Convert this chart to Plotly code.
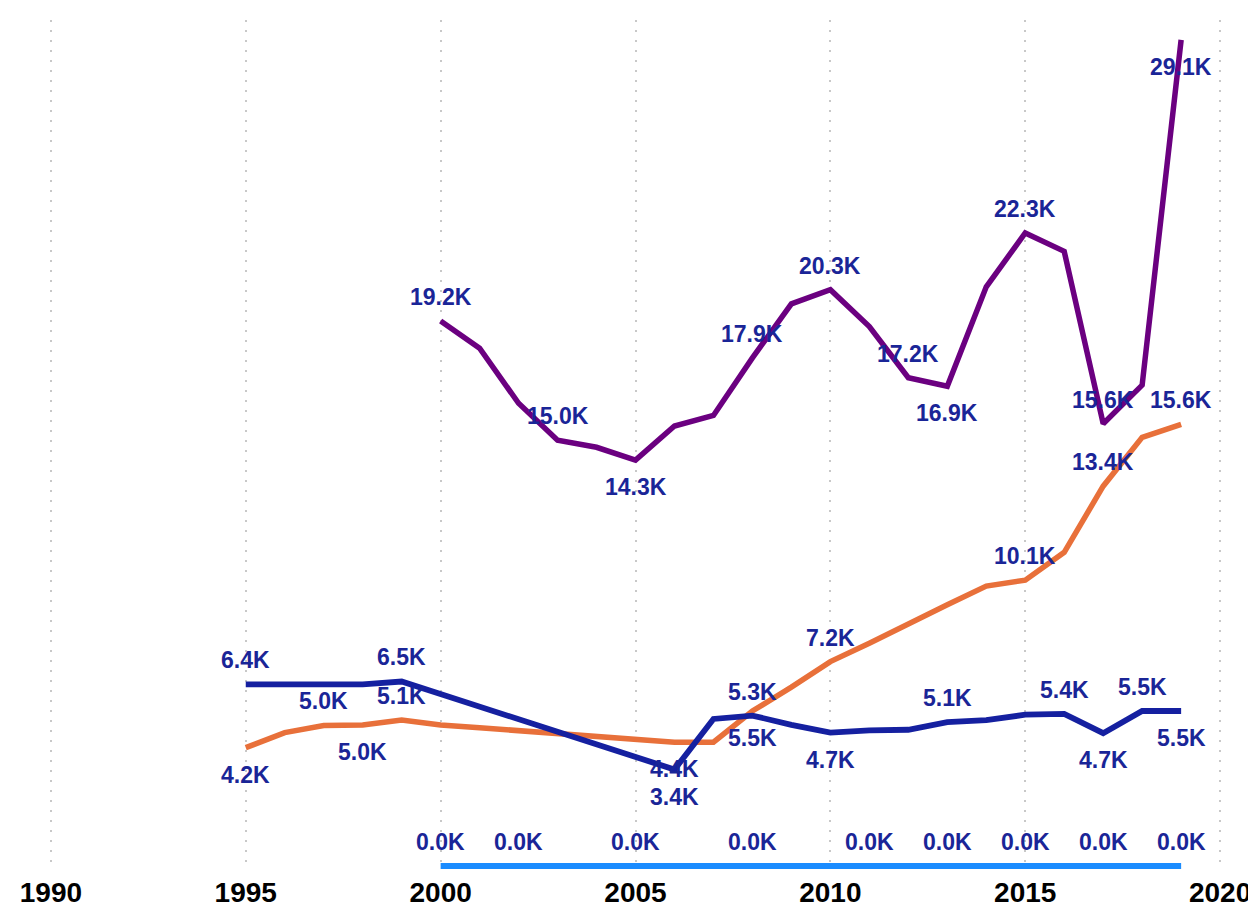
import plotly.graph_objects as go

# ---------------- data ----------------
years_a = list(range(1995, 2020))          # navy + orange series
navy_vals = [6.4, 6.4, 6.4, 6.4, 6.5, 6.06, 5.61, 5.17, 4.73, 4.29, 3.84, 3.4,
             5.18, 5.3, 4.97, 4.7, 4.78, 4.8, 5.07, 5.14, 5.33, 5.36, 4.68, 5.46, 5.46]
orange_vals = [4.17, 4.7, 4.95, 4.97, 5.14, 4.97, 4.87, 4.77, 4.67, 4.57, 4.47, 4.36,
               4.36, 5.46, 6.3, 7.2, 7.85, 8.5, 9.2, 9.86, 10.07, 11.05, 13.38, 15.1, 15.56]
years_b = list(range(2000, 2020))          # purple + light blue series
purple_vals = [19.2, 18.24, 16.3, 15.0, 14.75, 14.3, 15.5, 15.87, 17.9, 19.8,
               20.3, 19.0, 17.2, 16.9, 20.4, 22.3, 21.65, 15.58, 16.94, 29.1]
zero_vals = [0.0] * 20

tick_years = [1990, 1995, 2000, 2005, 2010, 2015, 2020]

# which points carry a value label (year -> 'above' / 'below')
navy_labels = {1995: 'above', 1999: 'above', 2006: 'below', 2008: 'above', 2010: 'below',
               2013: 'above', 2016: 'above', 2017: 'below', 2018: 'above', 2019: 'below'}
orange_labels = {1995: 'below', 1997: 'above', 1998: 'below', 1999: 'above', 2006: 'below',
                 2008: 'below', 2010: 'above', 2015: 'above', 2017: 'above', 2019: 'above'}
purple_labels = {2000: 'above', 2003: 'above', 2005: 'below', 2008: 'above', 2010: 'above',
                 2012: 'above', 2013: 'below', 2015: 'above', 2017: 'above', 2019: 'below'}
zero_labels = {y: 'above' for y in [2000, 2002, 2005, 2008, 2011, 2013, 2015, 2017, 2019]}

# ---------------- figure ----------------
fig = go.Figure()
series = [
    ("Light blue", years_b, zero_vals, "#1a8cff", zero_labels, 6),
    ("Orange", years_a, orange_vals, "#e8703a", orange_labels, 5.5),
    ("Navy", years_a, navy_vals, "#1520a0", navy_labels, 5.8),
    ("Purple", years_b, purple_vals, "#6b0080", purple_labels, 5.5),
]
label_color = "#1a2597"
annotations = []
for name, xs, ys, color, labels, lw in series:
    fig.add_trace(go.Scatter(x=xs, y=ys, mode="lines", name=name,
                             line=dict(color=color, width=lw),
                             hoverinfo="x+y"))
    for x, y in zip(xs, ys):
        if x in labels:
            annotations.append(dict(
                x=x, y=y, xref="x", yref="y", text=f"{y:.1f}K", showarrow=False,
                yshift=24 if labels[x] == 'above' else -27,
                font=dict(family="Liberation Sans, Arial, sans-serif", size=23,
                          color=label_color, weight="bold"),
                xanchor="center", yanchor="middle"))

fig.update_layout(
    width=1248, height=901,
    margin=dict(l=39, r=32, t=12, b=39),
    paper_bgcolor="white", plot_bgcolor="white",
    showlegend=False,
    annotations=annotations,
    xaxis=dict(range=[1989.9, 2020.1], tickvals=tick_years,
               ticktext=[str(t) for t in tick_years], automargin=False,
               showgrid=True, gridcolor="#c8c8c8", gridwidth=1.5, griddash="2px,8px",
               zeroline=False, showline=False, ticks="", ticklabelstandoff=3,
               tickfont=dict(family="Liberation Sans, Arial, sans-serif", size=28,
                             color="black", weight="bold")),
    yaxis=dict(range=[-0.14, 29.8], visible=False, showgrid=False, zeroline=False,
               automargin=False),
)

fig.write_html("out.html")
